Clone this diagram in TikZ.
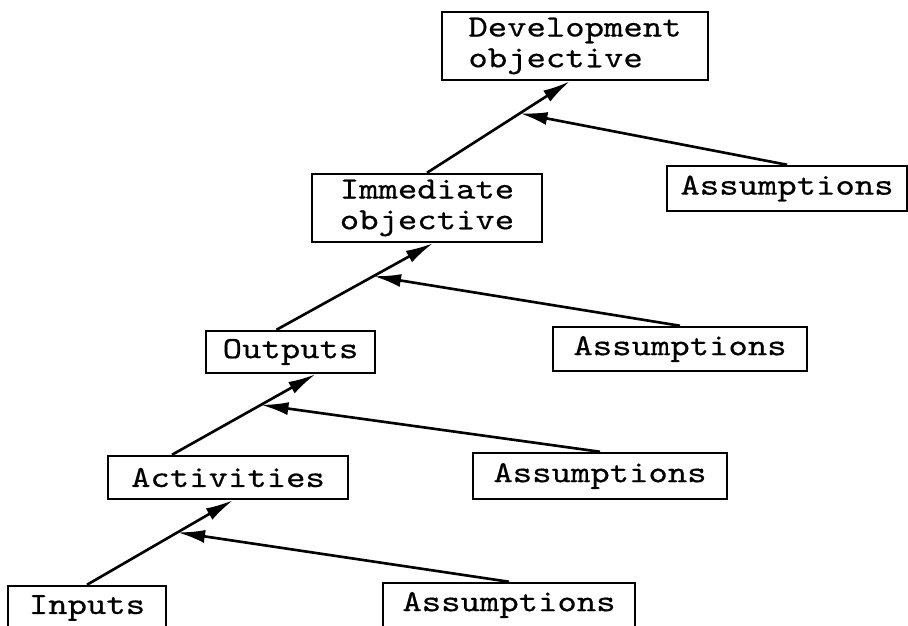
\documentclass[tikz,border=0pt]{standalone}
\usepackage{fontspec}
\newfontfamily\typewriter{lmmono10-regular.otf}[FakeStretch=1.2,FakeBold=0.5]
\usetikzlibrary{arrows.meta}

\begin{document}
\begin{tikzpicture}[box/.style = {draw, line width=1.4pt, inner sep=0pt, align=left,
    font=\typewriter\fontsize{17.5}{17.5}\selectfont},
  link/.style = {line width=1.5pt, -{Latex[length=5.5mm,width=2.6mm]}}]
\useasboundingbox (0,0) rectangle (18.16,12.5);
\clip (0,0) rectangle (18.16,12.5);
% the chain of levels
\node[box, minimum width=5.32cm, minimum height=1.36cm] (dev) at (11.5,11.58) {Development\\objective};
\node[box, minimum width=4.6cm, minimum height=1.36cm] (imm) at (8.54,8.34) {Immediate\\objective};
\node[box, minimum width=3.38cm, minimum height=0.84cm] (out) at (5.81,5.46) {Outputs};
\node[box, minimum width=4.8cm, minimum height=0.86cm] (act) at (4.56,2.95) {Activities};
\node[box, minimum width=3.16cm, minimum height=0.88cm] (inp) at (1.74,0.34) {Inputs};
% assumptions at each level
\node[box, minimum width=4.8cm, minimum height=0.9cm] (ass1) at (15.74,8.73) {Assumptions};
\node[box, minimum width=5.08cm, minimum height=0.88cm] (ass2) at (13.6,5.52) {Assumptions};
\node[box, minimum width=5.08cm, minimum height=0.92cm] (ass3) at (12.0,2.98) {Assumptions};
\node[box, minimum width=5.04cm, minimum height=0.88cm] (ass4) at (10.18,0.4) {Assumptions};
% links
\draw[link] (imm.north) -- ([xshift=-0.1cm]dev.south) coordinate[pos=0.65] (m1);
\draw[link] (ass1.north) -- (m1);
\draw[link] ([xshift=-0.28cm]out.north) -- ([xshift=0.12cm]imm.south) coordinate[pos=0.62] (m2);
\draw[link] (ass2.north) -- (m2);
\draw[link] ([xshift=-1.12cm]act.north) -- ([xshift=0.5cm]out.south) coordinate[pos=0.62] (m3);
\draw[link] (ass3.north) -- (m3);
\draw[link] (inp.north) -- ([xshift=0.1cm]act.south) coordinate[pos=0.62] (m4);
\draw[link] (ass4.north) -- (m4);
\end{tikzpicture}
\end{document}
